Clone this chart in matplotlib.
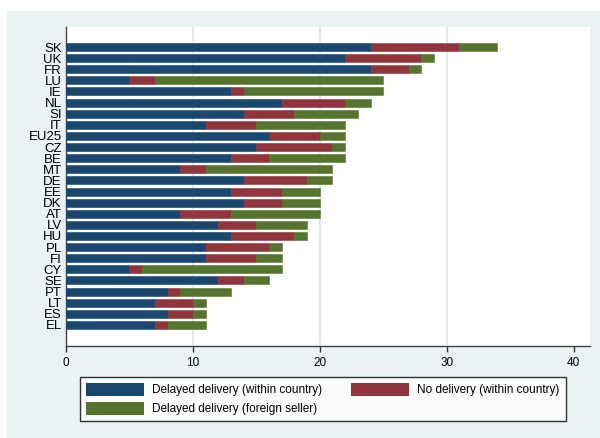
import matplotlib.pyplot as plt
from matplotlib.patches import Rectangle, Patch
import numpy as np

plt.rcParams['font.family'] = ['Liberation Sans', 'DejaVu Sans']

# countries, top to bottom as in the chart
countries = ['SK', 'UK', 'FR', 'LU', 'IE', 'NL', 'SI', 'IT', 'EU25', 'CZ', 'BE', 'MT', 'DE',
             'EE', 'DK', 'AT', 'LV', 'HU', 'PL', 'FI', 'CY', 'SE', 'PT', 'LT', 'ES', 'EL']

# percentages per stacked segment
delayed_within = [24, 22, 24, 5, 13, 17, 14, 11, 16, 15, 13, 9, 14,
                  13, 14, 9, 12, 13, 11, 11, 5, 12, 8, 7, 8, 7]
no_delivery = [7, 6, 3, 2, 1, 5, 4, 4, 4, 6, 3, 2, 5,
               4, 3, 4, 3, 5, 5, 4, 1, 2, 1, 3, 2, 1]
delayed_foreign = [3, 1, 1, 18, 11, 2, 5, 7, 2, 1, 6, 10, 2,
                   3, 3, 7, 4, 1, 1, 2, 11, 2, 4, 1, 1, 3]

labels = ['Delayed delivery (within country)', 'No delivery (within country)',
          'Delayed delivery (foreign seller)']
colors = ['#1a476f', '#90353b', '#55752f']
bg = '#eaf2f3'

fig = plt.figure(figsize=(6, 4.38), dpi=100, facecolor='white')
fig.patches.append(Rectangle((7 / 600, 0), 1, (438 - 11) / 438, transform=fig.transFigure,
                             facecolor=bg, edgecolor='none', zorder=-10))

ax = fig.add_axes([66 / 600, (438 - 346) / 438, (590 - 66) / 600, (346 - 27) / 438])
ax.set_facecolor('white')

y = np.arange(len(countries))[::-1]
left = np.zeros(len(countries))
for vals, c, lab in zip([delayed_within, no_delivery, delayed_foreign], colors, labels):
    v = np.array(vals)
    ax.barh(y, v, left=left, height=0.72, color=c, edgecolor=c, linewidth=0.4,
            label=lab, zorder=3)
    left += v

for gx in [10, 20, 30]:
    ax.axvline(gx, color='#dfe9eb', lw=1.3, zorder=1)

ax.set_xlim(0, 41.3)
ax.set_ylim(-1.9, len(countries) - 1 + 1.8)
ax.set_yticks(y)
ax.set_yticklabels(countries, fontsize=9.5)
ax.tick_params(axis='y', length=0, pad=3)
ax.set_xticks([0, 10, 20, 30, 40])
ax.tick_params(axis='x', length=4, width=1, color='#333333', labelsize=8.5, pad=4)

for s in ['top', 'right']:
    ax.spines[s].set_visible(False)
for s in ['left', 'bottom']:
    ax.spines[s].set_color('#444444')
    ax.spines[s].set_linewidth(1)

handles = [Patch(facecolor=colors[0], label=labels[0]),
           Patch(facecolor=colors[2], label=labels[2]),
           Patch(facecolor=colors[1], label=labels[1])]
leg = fig.legend(handles=handles, ncol=2, loc='upper left',
                 bbox_to_anchor=(80 / 600, (438 - 377) / 438), borderaxespad=0,
                 fontsize=8.5, frameon=True, fancybox=False, handlelength=4.9,
                 handleheight=1.27, columnspacing=2.5, handletextpad=0.68,
                 borderpad=0.5, labelspacing=0.5)
leg.get_frame().set_edgecolor('black')
leg.get_frame().set_linewidth(1)

fig.savefig('out.png', dpi=100, facecolor='white')
